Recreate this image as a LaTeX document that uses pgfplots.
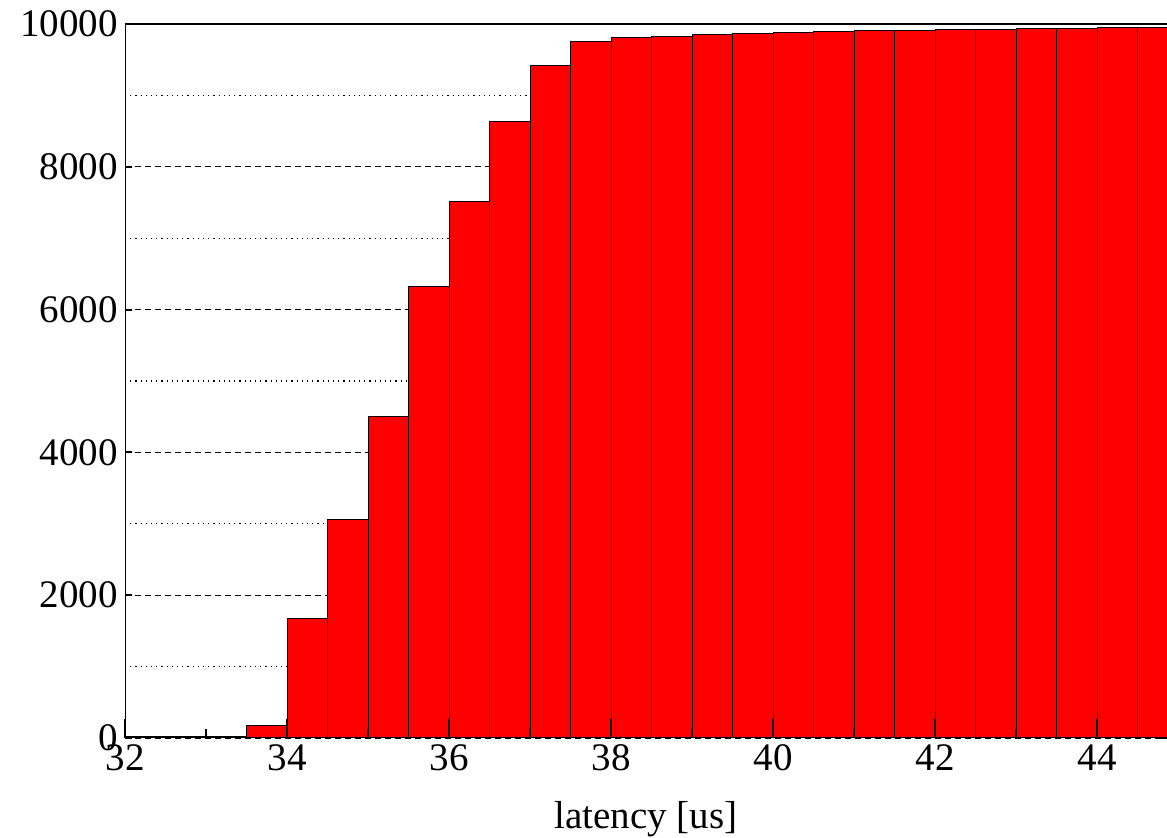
\documentclass[border=0pt]{standalone}
\usepackage{fontspec}
\setmainfont{Liberation Serif}
\usepackage{pgfplots}
\pgfplotsset{compat=1.18}
\begin{document}
\begin{tikzpicture}
\useasboundingbox (-62.5pt,-50pt) rectangle (521pt,369pt);
\pgfplotsset{common/.style={scale only axis, width=521pt, height=357pt,
  xmin=32, xmax=44.864, ymin=0, ymax=10000, at={(0,0)}, anchor=south west,
  tick label style={font=\fontsize{19.5}{22}\selectfont},
  label style={font=\fontsize{19.5}{22}\selectfont},
  /pgf/number format/assume math mode=true,
  /pgf/number format/set thousands separator={},
  scaled ticks=false}}
\begin{axis}[common,
  axis line style={draw=none},
  xtick=\empty,
  ytick={0,2000,...,10000}, minor y tick num=1,
  ymajorgrids, yminorgrids,
  major grid style={black, line width=0.6pt, dash pattern=on 3pt off 2pt},
  minor grid style={black, line width=0.6pt, dash pattern=on 0.6pt off 2pt},
  tick align=inside, major tick length=3.5pt, minor tick length=0pt,
  ytick style={black, line width=1pt},
  ]
\addplot[ybar interval, fill=red, draw=black, line width=0.5pt] coordinates {
(32,15) (32.5,15) (33,15) (33.5,176) (34,1680) (34.5,3055) (35,4505) (35.5,6317)
(36,7507) (36.5,8641) (37,9412) (37.5,9748) (38,9804) (38.5,9825) (39,9846)
(39.5,9867) (40,9874) (40.5,9888) (41,9902) (41.5,9909) (42,9916) (42.5,9923)
(43,9930) (43.5,9937) (44,9944) (44.5,9951) (45,9951)};
\end{axis}
\begin{axis}[common,
  axis line style={draw=none},
  ytick=\empty,
  xtick={32,34,...,44}, minor x tick num=1, xtick pos=bottom,
  tick align=inside, major tick length=9.5pt, minor tick length=4.5pt,
  xtick style={black, line width=1pt},
  xlabel={latency [us]},
  xlabel style={yshift=-8pt},
  ]
\draw[line width=1pt] (rel axis cs:1,1) -- (rel axis cs:0,1) -- (rel axis cs:0,0) -- (rel axis cs:1,0);
\end{axis}
\end{tikzpicture}
\end{document}
